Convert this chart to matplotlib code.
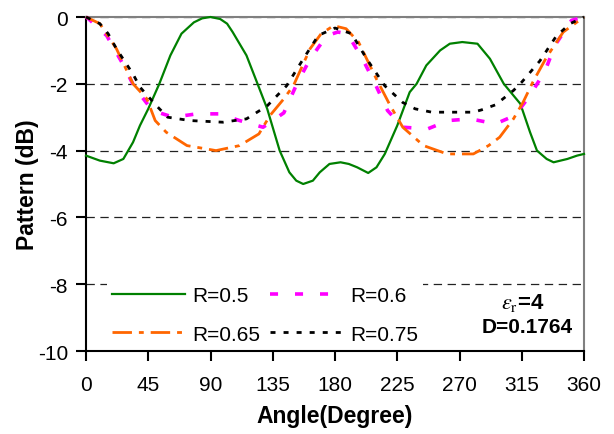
import matplotlib
matplotlib.use('Agg')
import matplotlib.pyplot as plt

plt.rcParams['font.family'] = ['Liberation Sans', 'DejaVu Sans']
plt.rcParams['lines.scale_dashes'] = False
plt.rcParams['mathtext.fontset'] = 'stix'
plt.rcParams['axes.unicode_minus'] = False

# R = 0.5
ang_05 = [0, 10, 20, 27, 34, 39, 45, 53, 61, 69, 78, 84, 90, 97, 102, 106, 116, 124, 131, 140,
          147, 152, 157, 164, 169, 176, 184, 190, 196, 204, 210, 216, 225, 234, 239, 246, 256,
          263, 272, 283, 292, 302, 314, 321, 326, 333, 338, 348, 355, 360]
pat_05 = [-4.15, -4.3, -4.38, -4.25, -3.75, -3.25, -2.75, -2.0, -1.15, -0.5, -0.16, -0.04, 0.0,
          -0.06, -0.2, -0.45, -1.15, -2.0, -2.75, -4.0, -4.65, -4.9, -5.0, -4.9, -4.65, -4.4,
          -4.35, -4.4, -4.5, -4.67, -4.5, -4.1, -3.25, -2.25, -2.0, -1.45, -1.0, -0.8, -0.75,
          -0.8, -1.25, -2.0, -2.6, -3.45, -4.0, -4.25, -4.35, -4.25, -4.15, -4.1]

# R = 0.6
ang_06 = [0, 2, 15, 26, 35, 48, 63, 80, 96, 111, 128, 143, 153, 162, 174, 182, 189, 200, 209,
          218, 229, 247, 262, 278, 296, 310, 321, 332, 339, 351, 360]
pat_06 = [0, -0.06, -0.56, -1.36, -2.1, -2.8, -3.0, -2.9, -2.9, -3.1, -3.3, -2.87, -1.95, -1.26,
          -0.56, -0.45, -0.5, -1.26, -2.0, -2.8, -3.3, -3.35, -3.1, -3.05, -3.2, -2.95, -2.35,
          -1.6, -0.85, -0.1, 0]

# R = 0.65
ang_065 = [0, 10, 22, 34, 44, 50, 58, 73, 94, 111, 125, 133, 143, 150, 162, 170, 179, 188, 197,
           210, 220, 229, 244, 261, 280, 291, 299, 309, 316, 323, 333, 345, 360]
pat_065 = [0, -0.2, -0.95, -2.0, -2.45, -3.1, -3.45, -3.85, -4.0, -3.85, -3.5, -2.95, -2.45,
           -2.05, -0.95, -0.5, -0.26, -0.35, -0.75, -1.86, -2.66, -3.3, -3.85, -4.1, -4.1,
           -3.85, -3.6, -3.05, -2.55, -1.95, -1.2, -0.45, 0]

# R = 0.75
ang_075 = [0, 10, 16, 22, 34, 39, 51, 59, 75, 99, 116, 131, 145, 157, 168, 180, 192, 203, 216,
           229, 238, 250, 270, 280, 286, 296, 309, 315, 328, 340, 350, 360]
pat_075 = [0, -0.2, -0.5, -0.95, -1.71, -2.1, -2.66, -3.0, -3.1, -3.15, -3.05, -2.66, -2.06,
           -1.26, -0.55, -0.33, -0.5, -1.26, -2.06, -2.56, -2.75, -2.85, -2.85, -2.85, -2.78,
           -2.63, -2.2, -1.95, -1.32, -0.57, -0.2, 0]

xticks = [0, 45, 90, 135, 180, 225, 270, 315, 360]
yticks = [0, -2, -4, -6, -8, -10]

fig = plt.figure(figsize=(6.14, 4.35), dpi=100)
ax = fig.add_axes([86 / 614, 1 - 352 / 435, 498 / 614, 334 / 435])

l05, = ax.plot(ang_05, pat_05, color='#008000', lw=1.6, label='R=0.5', clip_on=False, zorder=3)
l06, = ax.plot(ang_06, pat_06, color='#ff00ff', lw=2.6, ls=(0, (5.8, 12.2)), label='R=0.6',
               clip_on=False, zorder=3)
l065, = ax.plot(ang_065, pat_065, color='#ff6600', lw=2.0, ls=(0, (14, 5, 3.5, 5)),
                label='R=0.65', clip_on=False, zorder=3)
l075, = ax.plot(ang_075, pat_075, color='black', lw=2.0, ls=(0, (3.6, 5.8)), label='R=0.75',
                clip_on=False, zorder=3)

ax.set_xlim(0, 360)
ax.set_ylim(-10, 0)
ax.set_xticks(xticks)
ax.set_yticks(yticks)
ax.tick_params(axis='both', labelsize=15, direction='out', width=1.5)
ax.tick_params(axis='x', length=7, pad=10)
ax.tick_params(axis='y', length=7, pad=6)

ax.yaxis.grid(True, color='#222222', lw=0.9, ls=(0, (6, 4)))
ax.set_axisbelow(True)

for s in ['left', 'bottom']:
    ax.spines[s].set_linewidth(1.5)
    ax.spines[s].set_color('black')
for s in ['top', 'right']:
    ax.spines[s].set_linewidth(1.5)
    ax.spines[s].set_color('#808080')

ax.set_xlabel('Angle(Degree)', fontsize=16.5, fontweight='bold', labelpad=7.5)
ax.set_ylabel('Pattern (dB)', fontsize=16.5, fontweight='bold', labelpad=-1)

# legend is filled column by column, so order gives rows 0.5/0.6 and 0.65/0.75
leg = ax.legend([l05, l065, l06, l075], ['R=0.5', 'R=0.65', 'R=0.6', 'R=0.75'], ncol=2,
                loc='lower left', bbox_to_anchor=(0.042, 0.006), fontsize=15,
                frameon=True, fancybox=False, edgecolor='none', facecolor='white',
                framealpha=1, handlelength=3.5, handletextpad=0.35, columnspacing=0.45,
                labelspacing=0.95, borderpad=0.25, borderaxespad=0)

ax.text(316, -8.53, r'$\varepsilon_{\rm r}$=4', ha='center', va='center', fontsize=16,
        fontweight='bold')
ax.text(319, -9.28, 'D=0.1764', ha='center', va='center', fontsize=15, fontweight='bold')

fig.savefig('out.png', dpi=100)
